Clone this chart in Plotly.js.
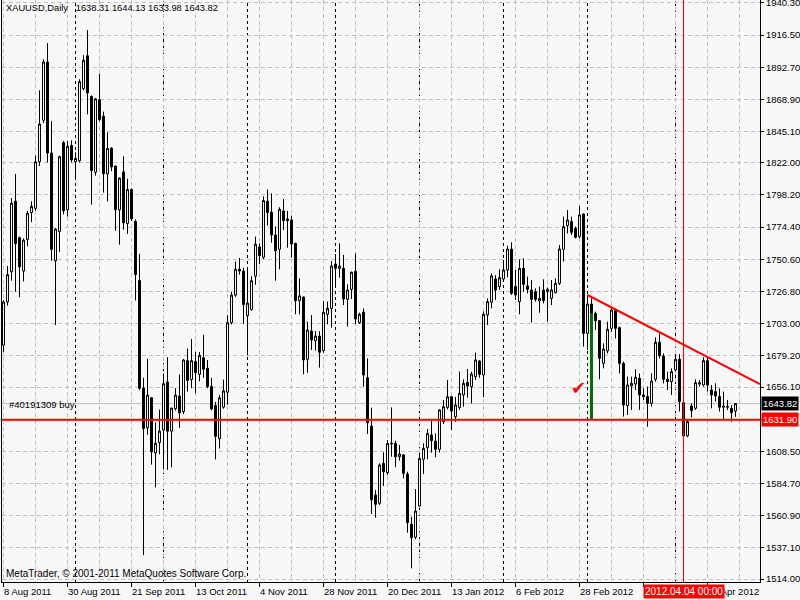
<!DOCTYPE html>
<html>
<head>
<meta charset="utf-8">
<script src="https://cdn.plot.ly/plotly-3.0.1.min.js"></script>
<style>
html,body{margin:0;padding:0;background:#f8f8f8;}
#chart{width:800px;height:600px;}
</style>
</head>
<body>
<div id="chart"></div>
<script>
// ---------------- data ----------------
const symbol = "XAUUSD,Daily";
const open = [
1687.1,1719.0,1741.4,1793.6,1766.6,1741.9,1765.3,1785.2,1788.3,1822.9,
1853.5,1896.6,1829.3,1749.5,1771.2,1837.0,1787.3,1834.9,1822.7,1823.5,
1877.0,1901.2,1871.1,1815.0,1868.6,1856.6,1813.8,1832.9,1819.6,1787.3,
1815.3,1777.1,1802.3,1778.6,1735.0,1655.2,1625.9,1648.1,1607.3,1615.0,
1624.2,1659.8,1623.4,1640.0,1649.4,1637.9,1675.6,1661.6,1674.9,1665.4,
1677.7,1670.0,1656.5,1642.5,1617.8,1641.2,1652.2,1703.7,1724.1,1743.2,
1741.9,1708.8,1713.4,1738.1,1759.7,1752.1,1793.6,1785.4,1768.6,1758.0,
1786.4,1780.4,1779.7,1762.4,1720.0,1722.7,1676.6,1697.5,1690.4,1693.8,
1683.0,1709.9,1714.3,1747.1,1743.9,1743.9,1721.0,1728.4,1741.7,1703.7,
1711.4,1663.0,1627.2,1576.2,1570.0,1599.6,1592.7,1613.9,1614.4,1604.5,
1605.8,1591.7,1554.5,1544.9,1568.0,1602.6,1611.2,1620.6,1616.1,1610.0,
1630.4,1641.0,1648.9,1634.1,1641.0,1650.2,1659.5,1656.3,1663.7,1675.3,
1665.0,1709.4,1718.8,1736.0,1730.4,1736.0,1742.7,1758.2,1730.4,1719.3,
1743.9,1730.9,1727.9,1726.7,1719.8,1727.9,1726.7,1721.7,1725.9,1732.8,
1758.0,1775.5,1778.5,1773.5,1767.4,1784.1,1695.8,1717.5,1710.6,1705.2,
1673.6,1682.8,1699.5,1712.6,1700.0,1673.6,1642.3,1656.9,1658.3,1662.5,
1650.2,1649.0,1644.0,1661.8,1689.2,1679.1,1661.8,1660.1,1668.7,1676.6,
1644.5,1619.9,1642.0,1640.3,1659.3,1657.6,1675.6,1653.9,1652.7,1649.0,
1641.1,1641.1,1640.3,1638.31
];
const high = [
1720.2,1745.7,1795.9,1813.8,1767.4,1766.1,1786.5,1793.6,1827.3,1875.7,
1898.6,1910.6,1852.8,1773.8,1827.3,1838.2,1838.2,1838.7,1829.8,1883.9,
1901.7,1920.3,1871.9,1870.1,1887.7,1859.9,1844.6,1833.6,1820.1,1811.2,
1826.8,1810.2,1803.1,1780.1,1754.6,1662.9,1676.9,1648.4,1629.8,1639.4,
1665.9,1678.2,1640.7,1655.2,1665.4,1676.9,1684.6,1691.7,1682.0,1682.0,
1694.7,1676.1,1662.9,1645.1,1650.1,1661.6,1709.3,1726.6,1749.0,1751.6,
1744.4,1744.4,1738.1,1767.4,1762.3,1797.2,1802.3,1799.4,1774.8,1789.1,
1795.2,1786.4,1782.9,1762.9,1736.5,1723.0,1704.5,1709.4,1697.5,1697.5,
1719.8,1719.3,1749.4,1754.5,1762.4,1753.8,1732.1,1741.5,1755.0,1711.1,
1714.3,1677.3,1640.8,1580.0,1599.6,1607.8,1616.9,1641.0,1616.4,1613.2,
1606.5,1593.4,1560.1,1580.6,1607.5,1614.4,1625.0,1631.2,1621.8,1639.6,
1646.5,1661.3,1649.4,1648.9,1667.5,1661.8,1669.4,1667.4,1681.5,1676.1,
1711.9,1721.7,1740.2,1739.0,1743.2,1750.1,1760.7,1763.2,1742.7,1750.6,
1751.3,1737.8,1735.3,1729.1,1730.4,1735.8,1729.6,1735.3,1736.5,1761.2,
1782.2,1787.1,1782.2,1774.8,1790.1,1784.6,1724.2,1721.7,1711.9,1705.7,
1688.4,1704.5,1715.6,1714.3,1700.8,1674.9,1663.8,1663.8,1669.2,1666.2,
1655.1,1656.4,1666.2,1692.9,1695.8,1681.0,1667.5,1669.9,1680.5,1680.5,
1645.3,1631.7,1644.0,1661.8,1661.3,1678.1,1678.6,1657.6,1658.8,1655.1,
1652.7,1646.5,1642.8,1644.13
];
const low = [
1682.0,1716.4,1734.8,1726.6,1722.5,1734.3,1760.2,1778.1,1786.5,1819.6,
1851.5,1822.2,1749.5,1701.9,1755.9,1783.9,1782.2,1822.2,1810.7,1822.2,
1875.7,1857.9,1791.1,1812.5,1852.8,1800.0,1793.4,1815.8,1771.7,1761.5,
1772.5,1769.4,1778.9,1720.2,1654.0,1531.7,1620.8,1598.7,1581.8,1606.3,
1595.4,1594.8,1596.6,1638.7,1625.9,1636.1,1652.7,1655.2,1651.4,1660.3,
1662.9,1655.2,1638.7,1602.5,1610.6,1640.0,1643.0,1702.4,1722.8,1739.3,
1702.9,1679.5,1712.6,1731.7,1747.0,1750.8,1775.5,1762.9,1734.8,1743.2,
1772.3,1759.2,1751.8,1709.9,1709.9,1665.5,1666.7,1683.5,1683.0,1670.4,
1681.5,1702.5,1700.0,1730.4,1737.0,1716.8,1700.8,1721.2,1702.7,1702.7,
1656.4,1621.3,1562.1,1559.4,1568.8,1582.8,1591.0,1604.5,1596.7,1601.6,
1588.5,1548.3,1521.9,1543.4,1567.5,1591.7,1602.6,1607.5,1604.1,1607.5,
1628.7,1639.6,1624.3,1630.4,1639.1,1641.5,1648.2,1644.0,1661.3,1663.0,
1648.5,1702.0,1714.3,1720.5,1727.9,1735.3,1737.3,1724.2,1720.5,1709.9,
1726.7,1725.4,1703.7,1719.3,1711.1,1718.0,1704.5,1716.8,1725.4,1731.6,
1748.9,1769.8,1768.6,1766.1,1766.1,1686.0,1683.5,1705.0,1698.3,1661.8,
1669.9,1681.0,1697.0,1692.1,1666.2,1634.2,1635.4,1639.1,1653.9,1639.1,
1646.5,1626.7,1641.5,1660.1,1677.3,1658.8,1653.9,1650.2,1667.5,1637.9,
1616.0,1618.9,1633.7,1639.1,1656.4,1656.4,1652.7,1640.3,1645.3,1637.9,
1631.2,1639.1,1630.5,1633.98
];
const close = [
1719.0,1739.3,1792.1,1762.3,1745.0,1764.8,1784.7,1789.8,1822.7,1850.7,
1896.6,1829.3,1758.0,1773.0,1826.5,1786.5,1834.2,1824.2,1825.2,1882.1,
1897.9,1873.7,1816.3,1869.3,1854.0,1814.0,1832.6,1818.9,1787.3,1810.7,
1777.6,1802.3,1780.6,1739.3,1655.2,1625.4,1650.1,1608.1,1614.5,1623.4,
1658.6,1623.4,1640.5,1650.1,1636.9,1676.1,1660.9,1675.6,1666.7,1679.5,
1669.3,1656.5,1640.0,1619.6,1648.1,1653.2,1703.7,1724.1,1743.2,1741.9,
1717.2,1718.2,1734.8,1761.8,1753.4,1794.1,1785.2,1768.6,1757.0,1787.6,
1779.2,1779.2,1761.9,1720.0,1723.5,1676.1,1698.3,1690.9,1693.8,1681.8,
1711.4,1714.3,1745.6,1743.9,1745.6,1721.2,1727.9,1741.0,1706.4,1709.9,
1665.0,1629.7,1572.5,1569.3,1598.4,1593.4,1614.4,1614.4,1604.5,1606.5,
1592.2,1555.7,1544.6,1564.3,1603.3,1610.7,1621.8,1616.4,1610.0,1639.1,
1641.5,1648.9,1638.3,1642.8,1651.4,1658.8,1656.9,1665.7,1676.1,1665.5,
1709.9,1719.3,1738.3,1727.9,1737.0,1742.7,1758.2,1725.4,1724.2,1743.9,
1732.1,1728.4,1721.0,1721.0,1721.7,1720.0,1728.4,1727.9,1732.8,1758.2,
1774.8,1779.7,1770.6,1766.9,1783.4,1695.8,1717.5,1710.6,1705.2,1677.3,
1684.2,1698.8,1713.1,1699.5,1673.6,1642.8,1657.6,1658.8,1663.3,1650.2,
1649.0,1644.0,1660.5,1689.2,1679.3,1661.8,1660.1,1667.5,1676.6,1645.3,
1620.0,1630.5,1638.6,1659.3,1658.3,1675.6,1657.6,1650.2,1649.5,1641.1,
1642.0,1641.6,1637.1,1643.82
];
// time axis labels (bar index -> label)
const tickIndex  = [0,16,32,48,64,80,96,112,128,144,160,176];
const tickLabels = ["8 Aug 2011","30 Aug 2011","21 Sep 2011","13 Oct 2011","4 Nov 2011","28 Nov 2011",
                    "20 Dec 2011","13 Jan 2012","6 Feb 2012","28 Feb 2012","21 Mar 2012","12 Apr 2012"];
const monthStarts = [18,40,61,83,104,125,146,168];
// price axis
const priceTicks = [1940.30,1916.50,1892.70,1868.90,1845.10,1822.00,1798.20,1774.40,1750.60,1726.80,
                    1703.00,1679.20,1656.10,1632.30,1608.50,1584.70,1560.90,1537.10,1514.00];
// objects on chart
const orderPrice = 1631.90;
const orderLabel = "#40191309 buy";
const bidPrice = 1643.82;
const trendX = [146, 175];
const trendY = [1724.2, 1679.8];
const dropBar = 147;
const dropTop = 1710.6;
const cursorBar = 170;
const cursorLabel = "2012.04.04 00:00";
const checkBar = 143.8;
const checkPrice = 1655.5;
const copyright = "MetaTrader, \u00a9 2001-2011 MetaQuotes Software Corp.";

// ---------------- chart ----------------
const bars = open.map((_, i) => i);
const xMin = -0.375, xMax = 189.125;
const yMin = 1511.8, yMax = 1942.5;
const last = open.length - 1;
const FONT = 'Liberation Sans, Arial, sans-serif';
const FS = 9.5;
const FS2 = 10;

const trendSlope = (trendY[1] - trendY[0]) / (trendX[1] - trendX[0]);
const trendEndY = trendY[0] + trendSlope * (xMax - trendX[0]);

const gridStyle = {color: '#c0c0c0', dash: '4px,3px'};

const shapes = [];
monthStarts.forEach(m => shapes.push({
  type: 'line', xref: 'x', yref: 'paper', x0: m, x1: m, y0: 0, y1: 1,
  line: {color: '#000000', width: 1, dash: '3px,3px'}, layer: 'below'
}));
shapes.push({type: 'line', xref: 'paper', yref: 'y', x0: 0, x1: 1, y0: bidPrice, y1: bidPrice,
  line: {color: '#c0c0c0', width: 1}, layer: 'below'});
shapes.push({type: 'line', xref: 'x', yref: 'paper', x0: cursorBar, x1: cursorBar, y0: 0, y1: 1,
  line: {color: '#ff0000', width: 1}, layer: 'above'});
shapes.push({type: 'line', xref: 'x', yref: 'y', x0: dropBar, x1: dropBar, y0: orderPrice, y1: dropTop,
  line: {color: '#007000', width: 3}, layer: 'above'});
shapes.push({type: 'line', xref: 'paper', yref: 'y', x0: 0, x1: 1, y0: orderPrice, y1: orderPrice,
  line: {color: '#ff0000', width: 2}, layer: 'above'});
shapes.push({type: 'line', xref: 'x', yref: 'y', x0: trendX[0], x1: xMax, y0: trendY[0], y1: trendEndY,
  line: {color: '#ff0000', width: 2}, layer: 'above'});

const annotations = [];
annotations.push({
  xref: 'paper', yref: 'paper', x: 0, y: 1, xanchor: 'left', yanchor: 'top', xshift: 2, yshift: -1,
  showarrow: false, align: 'left',
  text: symbol + '\u00a0\u00a0\u00a0' + [open[last], high[last], low[last], close[last]].map(v => v.toFixed(2)).join(' '),
  font: {family: FONT, size: 9.3, color: '#000'}
});
annotations.push({
  xref: 'paper', yref: 'paper', x: 0, y: 0, xanchor: 'left', yanchor: 'bottom', xshift: 2, yshift: 1,
  showarrow: false, text: copyright, font: {family: FONT, size: FS2, color: '#000'}
});
annotations.push({
  xref: 'paper', yref: 'y', x: 0, y: orderPrice, xanchor: 'left', yanchor: 'bottom', xshift: 5, yshift: 8,
  showarrow: false, text: orderLabel, font: {family: FONT, size: FS, color: '#000'}
});
annotations.push({
  xref: 'x', yref: 'y', x: checkBar, y: checkPrice, showarrow: false, text: '\u2714',
  font: {family: 'DejaVu Sans', size: 18, color: '#ff0000'}
});
tickIndex.forEach((t, k) => annotations.push({
  xref: 'x', yref: 'paper', x: t, y: 0, xanchor: 'left', yanchor: 'top', xshift: -2, yshift: -2,
  showarrow: false, text: tickLabels[k], font: {family: FONT, size: FS, color: '#000'}
}));
annotations.push({
  xref: 'x', yref: 'paper', x: cursorBar, y: 0, xanchor: 'center', yanchor: 'top', yshift: -2,
  showarrow: false, text: cursorLabel, bgcolor: '#ff0000', borderpad: 1,
  font: {family: FONT, size: FS2, color: '#ffffff'}
});
annotations.push({
  xref: 'paper', yref: 'y', x: 1, y: bidPrice, xanchor: 'left', yanchor: 'middle', xshift: 1,
  showarrow: false, text: bidPrice.toFixed(2), bgcolor: '#000000', borderpad: 1,
  font: {family: FONT, size: FS, color: '#ffffff'}
});
annotations.push({
  xref: 'paper', yref: 'y', x: 1, y: orderPrice, xanchor: 'left', yanchor: 'middle', xshift: 1,
  showarrow: false, text: orderPrice.toFixed(2), bgcolor: '#ff0000', borderpad: 1,
  font: {family: FONT, size: FS, color: '#ffffff'}
});

const trace = {
  type: 'candlestick', x: bars, open: open, high: high, low: low, close: close,
  increasing: {line: {color: '#000000', width: 1}, fillcolor: '#ffffff'},
  decreasing: {line: {color: '#000000', width: 1}, fillcolor: '#000000'},
  whiskerwidth: 0, hoverinfo: 'skip', showlegend: false
};

const layout = {
  width: 800, height: 600,
  paper_bgcolor: '#f8f8f8', plot_bgcolor: '#f8f8f8',
  margin: {l: 2, r: 40, t: 0, b: 18, pad: 0},
  showlegend: false,
  font: {family: FONT, size: FS, color: '#000'},
  xaxis: {
    type: 'linear', range: [xMin, xMax], fixedrange: true,
    rangeslider: {visible: false},
    tickmode: 'array', tickvals: tickIndex, ticktext: tickIndex.map(() => ''),
    ticks: 'outside', ticklen: 4, tickcolor: '#000', tickwidth: 1,
    showgrid: true, gridcolor: gridStyle.color, griddash: gridStyle.dash, gridwidth: 1,
    minor: {tickmode: 'linear', tick0: 0, dtick: 8, showgrid: true, gridcolor: gridStyle.color,
            griddash: gridStyle.dash, gridwidth: 1, ticks: ''},
    showline: true, linecolor: '#000', linewidth: 1, mirror: false, zeroline: false
  },
  yaxis: {
    side: 'right', range: [yMin, yMax], fixedrange: true,
    tickmode: 'array', tickvals: priceTicks,
    ticktext: priceTicks.map(v => Math.abs(v - orderPrice) < 3 ? '' : v.toFixed(2)),
    ticks: 'outside', ticklen: 3, tickcolor: '#000', tickwidth: 1,
    ticklabeloverflow: 'allow',
    tickfont: {family: FONT, size: FS, color: '#000'},
    showgrid: true, gridcolor: gridStyle.color, griddash: gridStyle.dash, gridwidth: 1,
    showline: true, linecolor: '#000', linewidth: 1, mirror: true, zeroline: false
  },
  shapes: shapes,
  annotations: annotations
};

Plotly.newPlot('chart', [trace], layout, {staticPlot: true, displayModeBar: false});
</script>
</body>
</html>
